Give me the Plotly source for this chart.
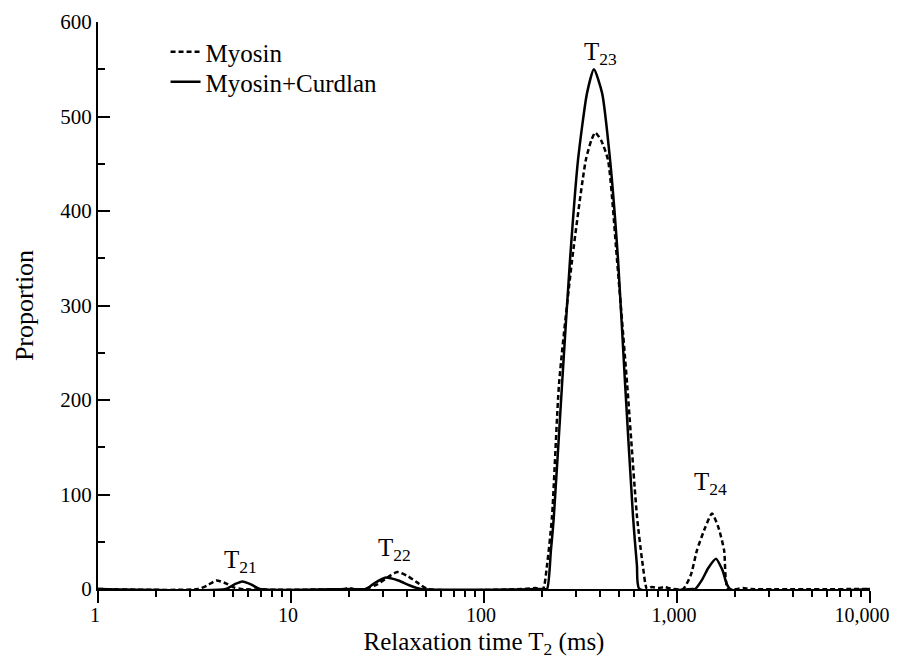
import math
import plotly.graph_objects as go

# Myosin (dashed)
myosin_t2 = [1, 3.3, 3.7, 4.1, 4.6, 5.0, 5.5, 19, 20, 21, 24, 28, 32, 35.5, 40, 45, 51,
             160, 185, 202, 212, 225, 245, 286, 337, 360, 377, 404, 439, 489, 551, 621, 665, 699,
             740, 800, 860, 950, 1075, 1180, 1269, 1400, 1518, 1640, 1754, 1837, 2200, 2400, 10000]
myosin_val = [0, 0, 4, 9, 6, 2, 0, 0, 1, 0, 0, 5, 13, 18, 14, 7, 0,
              0, 1, 0, 25, 76, 218, 348, 454, 475, 483, 475, 454, 348, 218, 76, 25, 0,
              2, 1, 2, 0, 0, 15, 41, 65, 80, 65, 41, 0, 1, 0, 0]

# Myosin+Curdlan (solid)
curdlan_t2 = [1, 4.6, 5.1, 5.6, 6.2, 6.9, 20, 24.5, 27, 30.7, 36, 41, 47,
              200, 212, 222, 230, 254, 279, 307, 342, 371, 409, 450, 495, 538, 592, 620, 639,
              1200, 1240, 1350, 1450, 1592, 1720, 1882, 10000]
curdlan_val = [0, 0, 5, 8, 5, 0, 0, 0, 6, 12, 9, 4, 0,
               0, 0, 40, 76, 218, 348, 454, 525, 550, 525, 454, 348, 218, 76, 25, 0,
               0, 0, 10, 22, 32, 20, 0, 0]

x_tickvals = [1, 10, 100, 1000, 10000]
x_ticktext = ["1", "10", "100", "1,000", "10,000"]
x_minor = [m * 10 ** k for k in range(4) for m in range(2, 10)]

peak_labels = ["T<sub>21</sub>", "T<sub>22</sub>", "T<sub>23</sub>", "T<sub>24</sub>"]
peak_x = [5.5, 34.5, 400, 1500]
peak_y = [11, 23, 548, 93]

FONT = "Liberation Serif"

# the last label is padded so it stays inside the page edge
x_ticktext_drawn = x_ticktext[:-1] + [x_ticktext[-1] + "\u00a0\u00a0"]

fig = go.Figure()
fig.add_trace(go.Scatter(x=myosin_t2, y=myosin_val, mode="lines", name="Myosin", legend="legend",
                         line=dict(color="black", width=2.5, dash="5px,3px", shape="spline", smoothing=0.6)))
fig.add_trace(go.Scatter(x=curdlan_t2, y=curdlan_val, mode="lines", name="Myosin+Curdlan", legend="legend2",
                         line=dict(color="black", width=2.5, shape="spline", smoothing=0.6)))

for t, xv, yv in zip(peak_labels, peak_x, peak_y):
    fig.add_annotation(x=math.log10(xv), y=yv, text=t, showarrow=False, xref="x", yref="y",
                       xanchor="center", yanchor="bottom",
                       font=dict(family=FONT, size=25, color="black"))

legend_style = dict(xanchor="left", yanchor="middle", bgcolor="rgba(0,0,0,0)",
                    font=dict(family=FONT, size=25))

fig.update_layout(
    width=884, height=651,
    margin=dict(l=90, r=22, t=14, b=70, autoexpand=False),
    paper_bgcolor="white", plot_bgcolor="white",
    font=dict(family=FONT, size=21, color="black"),
    showlegend=True,
    legend=dict(x=0.0875, y=0.947, **legend_style),
    legend2=dict(x=0.0875, y=0.894, **legend_style),
    xaxis=dict(type="log", range=[0, 4], tickvals=x_tickvals, ticktext=x_ticktext_drawn,
               automargin=False, ticklabeloverflow="allow",
               showline=True, linecolor="black", linewidth=2, mirror=False,
               ticks="outside", ticklen=12, tickwidth=2, tickcolor="black",
               ticklabelstandoff=-5, ticklabelshift=-3,
               tickfont=dict(family=FONT, size=20),
               minor=dict(tickvals=x_minor, ticks="outside", ticklen=6, tickwidth=2,
                          tickcolor="black", showgrid=False),
               showgrid=False, zeroline=False,
               title=dict(text="Relaxation time T<sub>2</sub> (ms)", standoff=26,
                          font=dict(family=FONT, size=25))),
    yaxis=dict(range=[0, 600], tickvals=[0, 100, 200, 300, 400, 500, 600],
               automargin=False,
               showline=True, linecolor="black", linewidth=2, mirror=False,
               ticks="inside", ticklen=12, tickwidth=2, tickcolor="black",
               tickfont=dict(family=FONT, size=21),
               minor=dict(tickvals=[50, 150, 250, 350, 450, 550], ticks="inside", ticklen=7,
                          tickwidth=2, tickcolor="black", showgrid=False),
               showgrid=False, zeroline=False,
               title=dict(text="Proportion", standoff=19, font=dict(family=FONT, size=26))),
)

fig.write_html("out.html")
